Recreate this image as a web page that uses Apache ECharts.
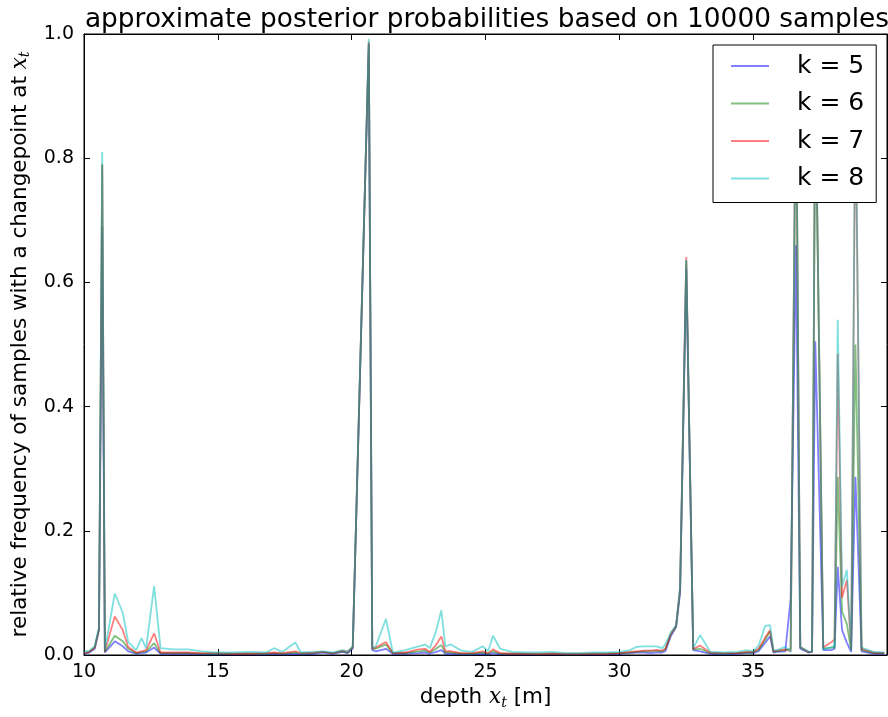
<!DOCTYPE html>
<html>
<head>
<meta charset="utf-8">
<script src="https://cdn.jsdelivr.net/npm/echarts@6/dist/echarts.min.js"></script>
<style>
html,body{margin:0;padding:0;background:#fff;}
#chart{width:888px;height:717px;}
</style>
</head>
<body>
<div id="chart"></div>
<script>
// depth positions [m]
const depth = [
  10.0,10.2,10.4,10.56,10.68,10.78,10.85,11.15,11.45,11.65,
  11.95,12.15,12.32,12.62,12.86,13.3,13.9,14.4,14.9,15.5,
  16.2,16.8,17.1,17.4,17.9,18.1,18.6,18.9,19.3,19.65,
  19.85,20.04,20.64,20.77,20.9,21.28,21.54,22.0,22.5,22.75,
  22.92,23.15,23.35,23.5,23.7,24.1,24.5,24.9,25.1,25.28,
  25.55,26.0,26.5,27.0,27.5,28.0,28.5,29.0,29.5,30.0,
  30.4,30.65,30.9,31.15,31.4,31.6,31.72,31.92,32.12,32.27,
  32.5,32.76,33.02,33.4,33.9,34.4,34.76,35.0,35.2,35.45,
  35.63,35.76,35.88,36.2,36.4,36.6,36.76,37.06,37.2,37.32,
  37.62,37.9,38.04,38.16,38.32,38.5,38.66,38.82,39.05,39.5,
  39.9
];
const k5 = [
  0.002,0.004,0.010,0.040,0.690,0.004,0.004,0.022,0.014,0.006,
  0.002,0.003,0.004,0.012,0.002,0.002,0.002,0.001,0.001,0.001,
  0.001,0.001,0.002,0.001,0.002,0.001,0.002,0.004,0.002,0.005,
  0.003,0.010,0.983,0.008,0.006,0.010,0.002,0.002,0.003,0.004,
  0.002,0.005,0.008,0.002,0.002,0.001,0.001,0.002,0.001,0.003,
  0.001,0.001,0.001,0.001,0.001,0.001,0.001,0.001,0.001,0.002,
  0.003,0.004,0.004,0.003,0.004,0.004,0.006,0.030,0.045,0.100,
  0.622,0.008,0.006,0.002,0.001,0.002,0.003,0.003,0.006,0.020,
  0.030,0.004,0.005,0.006,0.090,0.660,0.010,0.004,0.005,0.505,
  0.008,0.008,0.010,0.142,0.040,0.020,0.005,0.287,0.006,0.002,
  0.002
];
const k6 = [
  0.003,0.005,0.012,0.042,0.790,0.005,0.006,0.031,0.022,0.010,
  0.003,0.005,0.006,0.019,0.003,0.003,0.003,0.002,0.002,0.002,
  0.002,0.002,0.003,0.002,0.004,0.002,0.003,0.005,0.003,0.006,
  0.004,0.012,0.985,0.010,0.010,0.017,0.003,0.003,0.006,0.007,
  0.004,0.010,0.016,0.004,0.004,0.002,0.002,0.004,0.002,0.006,
  0.002,0.002,0.002,0.001,0.002,0.001,0.001,0.002,0.002,0.003,
  0.004,0.005,0.006,0.006,0.007,0.006,0.009,0.033,0.046,0.105,
  0.635,0.009,0.010,0.003,0.002,0.003,0.004,0.004,0.008,0.025,
  0.038,0.005,0.006,0.008,0.010,0.950,0.012,0.005,0.005,0.920,
  0.010,0.012,0.012,0.287,0.070,0.050,0.008,0.500,0.008,0.003,
  0.003
];
const k7 = [
  0.003,0.005,0.012,0.042,0.790,0.006,0.008,0.062,0.040,0.013,
  0.004,0.006,0.008,0.035,0.004,0.004,0.004,0.003,0.003,0.002,
  0.002,0.003,0.004,0.003,0.006,0.003,0.004,0.005,0.003,0.007,
  0.005,0.013,0.988,0.011,0.012,0.021,0.003,0.004,0.009,0.010,
  0.005,0.016,0.030,0.006,0.006,0.003,0.003,0.006,0.003,0.009,
  0.003,0.002,0.002,0.002,0.002,0.002,0.002,0.002,0.002,0.003,
  0.005,0.006,0.007,0.007,0.008,0.007,0.010,0.034,0.047,0.108,
  0.641,0.010,0.015,0.004,0.003,0.003,0.005,0.005,0.010,0.028,
  0.040,0.006,0.007,0.009,0.006,0.960,0.013,0.005,0.005,0.940,
  0.012,0.020,0.025,0.485,0.092,0.121,0.010,0.900,0.010,0.004,
  0.003
];
const k8 = [
  0.005,0.007,0.014,0.045,0.810,0.008,0.011,0.099,0.068,0.021,
  0.008,0.027,0.011,0.111,0.011,0.009,0.009,0.006,0.004,0.004,
  0.005,0.004,0.011,0.005,0.020,0.004,0.005,0.006,0.004,0.008,
  0.006,0.014,0.992,0.012,0.014,0.058,0.004,0.008,0.014,0.017,
  0.011,0.038,0.072,0.014,0.017,0.007,0.005,0.014,0.006,0.031,
  0.010,0.005,0.004,0.004,0.005,0.003,0.003,0.004,0.004,0.005,
  0.008,0.013,0.014,0.014,0.014,0.011,0.017,0.036,0.048,0.110,
  0.636,0.011,0.032,0.005,0.004,0.005,0.008,0.006,0.015,0.047,
  0.048,0.008,0.008,0.013,0.005,0.970,0.013,0.006,0.005,0.950,
  0.010,0.012,0.015,0.540,0.110,0.137,0.010,0.920,0.012,0.005,
  0.004
];
const seriesNames = ['k = 5','k = 6','k = 7','k = 8'];
const seriesColors = ['rgba(0,0,255,0.5)','rgba(0,128,0,0.5)','rgba(255,0,0,0.5)','rgba(0,191,191,0.5)'];
const seriesValues = [k5,k6,k7,k8];
const titleText = 'approximate posterior probabilities based on 10000 samples';

const FONT = 'DejaVu Sans';
const chart = echarts.init(document.getElementById('chart'), null, {renderer:'canvas'});

const tickCommon = {show:true, inside:true, length:6, lineStyle:{color:'#000', width:1}};
const lineCommon = {show:true, onZero:false, lineStyle:{color:'#000', width:1}};
const nameRich = {
  n:{fontFamily:FONT, fontSize:21.5, color:'#000', lineHeight:24},
  x:{fontFamily:'DejaVu Serif', fontStyle:'italic', fontSize:21.5, color:'#000', lineHeight:24},
  s:{fontFamily:'DejaVu Serif', fontStyle:'italic', fontSize:14, color:'#000', lineHeight:8, verticalAlign:'bottom'}
};

const option = {
  animation:false,
  backgroundColor:'#fff',
  title:{
    text:titleText,
    left:482, top:2, textAlign:'center',
    textStyle:{fontFamily:FONT, fontSize:26.4, fontWeight:'normal', color:'#000'}
  },
  legend:{
    orient:'vertical',
    left:713, top:45,
    padding:[8,12,11,18],
    itemGap:11.5,
    itemWidth:61, itemHeight:2,
    icon:'path://M0,0L38,0L38,2L0,2Z M61,0L61,2',
    backgroundColor:'#fff',
    borderColor:'#000', borderWidth:1,
    textStyle:{fontFamily:FONT, fontSize:25, color:'#000', lineHeight:26},
    data:seriesNames,
    z:10
  },
  grid:{left:84, right:1, top:34, bottom:62, show:true, borderColor:'#000', borderWidth:1, containLabel:false},
  xAxis:[{
    type:'value', min:10, max:40, interval:5,
    axisLine:lineCommon, axisTick:tickCommon, splitLine:{show:false},
    axisLabel:{show:true, showMaxLabel:false, margin:8, fontFamily:FONT, fontSize:19, color:'#000'},
    name:'{n|depth }{x|x}{s|t}{n| [m]}', nameLocation:'middle', nameGap:30,
    nameTextStyle:{rich:nameRich}
  },{
    type:'value', min:10, max:40, interval:5, position:'top',
    axisLine:lineCommon, axisTick:tickCommon, splitLine:{show:false}, axisLabel:{show:false}
  }],
  yAxis:[{
    type:'value', min:0, max:1, interval:0.2,
    axisLine:lineCommon, axisTick:tickCommon, splitLine:{show:false},
    axisLabel:{margin:10, fontFamily:FONT, fontSize:19, color:'#000', formatter:v=>v.toFixed(1)},
    name:'{n|relative frequency of samples with a changepoint at }{x|x}{s|t}', nameLocation:'middle', nameGap:52,
    nameTextStyle:{rich:nameRich}
  },{
    type:'value', min:0, max:1, interval:0.2, position:'right',
    axisLine:lineCommon, axisTick:tickCommon, splitLine:{show:false}, axisLabel:{show:false}
  }],
  series: seriesNames.map((name,si)=>({
    name:name,
    type:'line',
    xAxisIndex:0, yAxisIndex:0,
    showSymbol:false, symbol:'none',
    color:seriesColors[si],
    lineStyle:{color:seriesColors[si], width:1.8},
    itemStyle:{color:seriesColors[si]},
    data: depth.map((d,i)=>[d, seriesValues[si][i]]),
    clip:true,
    z:2+si
  }))
};
chart.setOption(option);
</script>
</body>
</html>
